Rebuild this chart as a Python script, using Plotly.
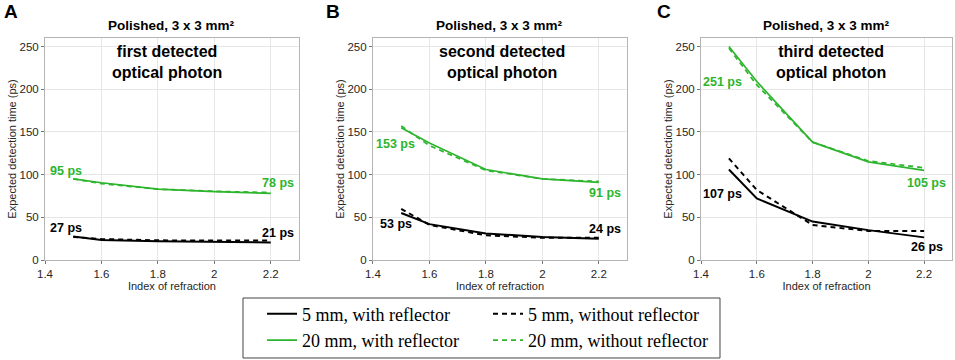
import plotly.graph_objects as go

# ---------------- data ----------------
n_index = [1.5, 1.6, 1.8, 2.0, 2.2]

panels = ["A", "B", "C"]
panel_titles = ["Polished, 3 x 3 mm²"] * 3
panel_notes = ["first detected<br>optical photon",
               "second detected<br>optical photon",
               "third detected<br>optical photon"]

# expected detection time (ps) per panel
mm5_with = [[27.5, 23.5, 22, 21, 20.5],
            [55, 42, 31, 27, 25],
            [106, 72, 45, 35, 26.5]]
mm5_without = [[27, 24.5, 23, 22.5, 22.7],
               [60, 41, 29, 26, 26],
               [119, 82, 41, 34, 34]]
mm20_with = [[95, 90.5, 83, 80, 78],
             [155, 137, 106, 95, 91],
             [250, 209, 138, 115, 105]]
mm20_without = [[95, 89.5, 83, 80.5, 79],
                [157, 134, 105, 95, 92],
                [248, 205, 138, 116, 108]]

# value labels: (text, x, y, colour key)
value_labels = [
    [("95 ps", 1.474, 104, "g"), ("78 ps", 2.226, 90, "g"),
     ("27 ps", 1.474, 37.5, "k"), ("21 ps", 2.226, 31.5, "k")],
    [("153 ps", 1.48, 136, "g"), ("91 ps", 2.223, 79, "g"),
     ("53 ps", 1.48, 42, "k"), ("24 ps", 2.223, 36, "k")],
    [("251 ps", 1.478, 208, "g"), ("105 ps", 2.21, 90, "g"),
     ("107 ps", 1.478, 77.5, "k"), ("26 ps", 2.21, 15, "k")],
]

x_ticks = [1.4, 1.6, 1.8, 2.0, 2.2]
x_ticklabels = ["1.4", "1.6", "1.8", "2", "2.2"]
y_ticks = [0, 50, 100, 150, 200, 250]

series_names = ["5 mm, with reflector", "5 mm, without reflector",
                "20 mm, with reflector", "20 mm, without reflector"]

# ---------------- style ----------------
BLACK = "#000000"
GREEN = "#2db52d"
SANS = "Liberation Sans, Arial, sans-serif"
SERIF = "Liberation Serif, Times New Roman, serif"
DASH = "5px,4px"

fig = go.Figure()

domains = [[0.0, 0.280], [0.3616, 0.6417], [0.7233, 1.0]]

for i in range(3):
    xa = "x" if i == 0 else f"x{i+1}"
    ya = "y" if i == 0 else f"y{i+1}"
    series = [
        (mm5_with[i], BLACK, "solid", 2.0, series_names[0], "legend"),
        (mm5_without[i], BLACK, DASH, 2.0, series_names[1], "legend2"),
        (mm20_with[i], GREEN, "solid", 1.7, series_names[2], "legend"),
        (mm20_without[i], GREEN, DASH, 1.7, series_names[3], "legend2"),
    ]
    for vals, col, dash, w, name, leg in series:
        fig.add_trace(go.Scatter(
            x=n_index, y=vals, mode="lines", name=name,
            line=dict(color=col, dash=dash, width=w),
            xaxis=xa, yaxis=ya, showlegend=(i == 0), legend=leg,
            hoverinfo="skip"))

    axis_common = dict(showline=True, mirror=True, linecolor="#b5b5b5", linewidth=1,
                       showgrid=True, gridcolor="#e6e6e6", gridwidth=1, zeroline=False,
                       ticks="outside", ticklen=3, tickcolor="#777777", automargin=False,
                       tickfont=dict(family=SANS, size=11.5, color="#262626"))
    fig.layout[f"xaxis{'' if i == 0 else i+1}"] = dict(
        domain=domains[i], anchor=ya, range=[1.4, 2.3],
        tickvals=x_ticks, ticktext=x_ticklabels,
        title=dict(text="Index of refraction", font=dict(family=SANS, size=11, color="#262626"),
                   standoff=0),
        **axis_common)
    fig.layout[f"yaxis{'' if i == 0 else i+1}"] = dict(
        domain=[0, 1], anchor=xa, range=[0, 260], tickvals=y_ticks,
        title=dict(text="Expected detection time (ps)",
                   font=dict(family=SANS, size=11, color="#262626"), standoff=0),
        **axis_common)

    xd = f"{xa} domain"
    yd = f"{ya} domain"
    # panel title
    fig.add_annotation(text=f"<b>{panel_titles[i]}</b>", xref=xd, yref=yd, x=0.5, y=1.058,
                       showarrow=False, font=dict(family=SANS, size=13.5, color="#000"),
                       xanchor="center", yanchor="middle")
    # note
    note_x = [0.48, 0.508, 0.518][i]
    fig.add_annotation(text=f"<b>{panel_notes[i]}</b>", xref=xd, yref=yd, x=note_x, y=0.89,
                       showarrow=False, font=dict(family=SANS, size=16, color="#000"),
                       xanchor="center", yanchor="middle")
    # panel letter
    fig.add_annotation(text=f"<b>{panels[i]}</b>", xref="paper", yref="paper",
                       x=[-0.0375, 0.318, 0.683][i], y=1.12,
                       showarrow=False, font=dict(family=SANS, size=19, color="#000"),
                       xanchor="center", yanchor="middle")
    for txt, lx, ly, ck in value_labels[i]:
        fig.add_annotation(text=f"<b>{txt}</b>", xref=xa, yref=ya, x=lx, y=ly,
                           showarrow=False,
                           font=dict(family=SANS, size=12.5, color=GREEN if ck == "g" else BLACK),
                           xanchor="center", yanchor="middle")

# legend frame
fig.add_shape(type="rect", xref="paper", yref="paper", x0=0.2183, x1=0.7442,
              y0=-0.4414, y1=-0.1712, line=dict(color="#444444", width=1),
              fillcolor="rgba(0,0,0,0)")

legend_common = dict(orientation="v", yanchor="top", xanchor="left",
                     bgcolor="rgba(0,0,0,0)", borderwidth=0, tracegroupgap=0,
                     font=dict(family=SERIF, size=18, color="#000"))

fig.update_layout(
    width=955, height=360,
    margin=dict(l=45, r=3, t=38, b=100, autoexpand=False),
    paper_bgcolor="white", plot_bgcolor="white",
    legend=dict(x=0.2393, y=-0.16, **legend_common),
    legend2=dict(x=0.4884, y=-0.16, **legend_common),
)

# remove the default 8px page margin so the figure fills the window exactly
fig.write_html("out.html", config={"displayModeBar": False},
               post_script="document.body.style.margin='0px';")
